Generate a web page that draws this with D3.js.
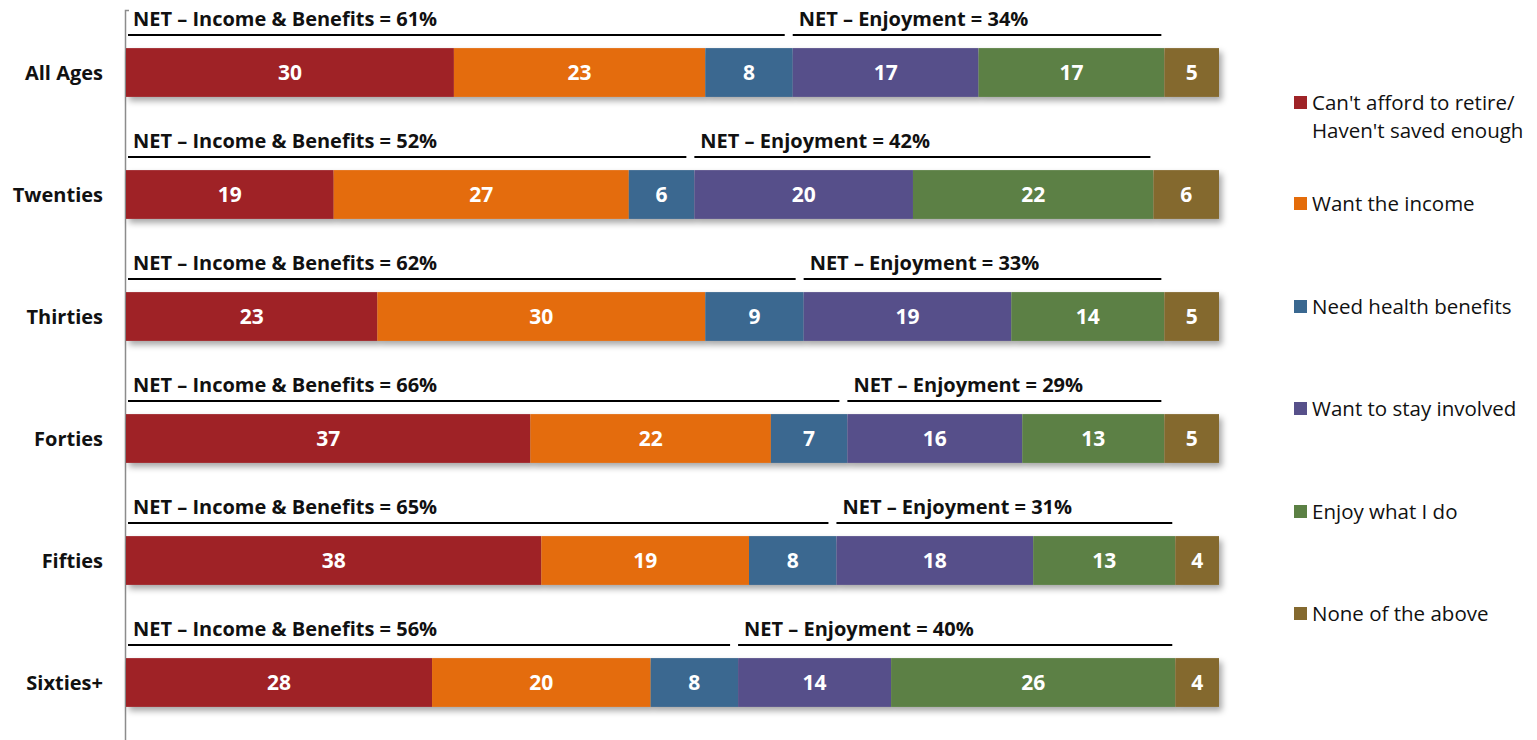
<!DOCTYPE html>
<html>
<head>
<meta charset="utf-8">
<script src="https://cdn.jsdelivr.net/npm/d3@7"></script>
<style>
  body { margin: 0; background: #fff; }
  text { font-family: "Open Sans", "Noto Sans", sans-serif; }
</style>
</head>
<body>
<div id="chart"></div>
<script>
// rows and series
var groups = ["All Ages", "Twenties", "Thirties", "Forties", "Fifties", "Sixties+"];
var series = ["Can't afford to retire/ Haven't saved enough", "Want the income", "Need health benefits",
              "Want to stay involved", "Enjoy what I do", "None of the above"];
var colors = ["#9F2327", "#E46C0A", "#3A6890", "#57508A", "#5B8044", "#84692F"];

var cantAfford = [30, 19, 23, 37, 38, 28];
var wantIncome = [23, 27, 30, 22, 19, 20];
var health     = [8, 6, 9, 7, 8, 8];
var involved   = [17, 20, 19, 16, 18, 14];
var enjoy      = [17, 22, 14, 13, 13, 26];
var noneAbove  = [5, 6, 5, 5, 4, 4];

var netIncome    = [61, 52, 62, 66, 65, 56];
var netEnjoyment = [34, 42, 33, 29, 31, 40];

var values = [cantAfford, wantIncome, health, involved, enjoy, noneAbove];

var W = 1537, H = 740;
var svg = d3.select("#chart").append("svg").attr("width", W).attr("height", H);

var defs = svg.append("defs");
var f = defs.append("filter").attr("id", "shadow").attr("x", "-5%").attr("y", "-20%").attr("width", "110%").attr("height", "160%");
f.append("feDropShadow").attr("dx", 3).attr("dy", 4).attr("stdDeviation", 3).attr("flood-color", "#000").attr("flood-opacity", 0.35);

var x = d3.scaleLinear().domain([0, 100]).range([126, 1219]);
var y = d3.scaleBand().domain(groups).range([11.5, 743.5]).paddingInner(0.6).paddingOuter(0.3);

// stack
var rows = groups.map(function (g, i) {
  var o = { group: g };
  series.forEach(function (s, j) { o[s] = values[j][i]; });
  return o;
});
var stacked = d3.stack().keys(series)(rows);

// axis line
svg.append("path")
  .attr("d", "M129,10.5H125.5V740")
  .attr("fill", "none").attr("stroke", "#8c8c8c").attr("stroke-width", 1.5);

// bars with shadow
var barG = svg.append("g").attr("filter", "url(#shadow)");
var layers = barG.selectAll("g.layer").data(stacked).enter().append("g")
  .attr("class", "layer").attr("fill", function (d, i) { return colors[i]; });

layers.selectAll("rect").data(function (d) { return d; }).enter().append("rect")
  .attr("x", function (d) { return x(d[0]); })
  .attr("y", function (d) { return y(d.data.group); })
  .attr("width", function (d) { return x(d[1]) - x(d[0]); })
  .attr("height", y.bandwidth());

// value labels
var labG = svg.append("g");
stacked.forEach(function (layer) {
  labG.selectAll(null).data(layer).enter().append("text")
    .attr("x", function (d) { return (x(d[0]) + x(d[1])) / 2; })
    .attr("y", function (d) { return y(d.data.group) + y.bandwidth() / 2; })
    .attr("dy", "0.36em")
    .attr("text-anchor", "middle")
    .attr("fill", "#fff")
    .attr("font-weight", "bold")
    .attr("font-size", 21)
    .text(function (d) { return d[1] - d[0]; });
});

// category labels
svg.selectAll("text.cat").data(groups).enter().append("text")
  .attr("class", "cat")
  .attr("x", 103)
  .attr("y", function (d) { return y(d) + y.bandwidth() / 2; })
  .attr("dy", "0.36em")
  .attr("text-anchor", "end")
  .attr("font-weight", "bold")
  .attr("font-size", 20)
  .attr("fill", "#111")
  .text(function (d) { return d; });

// NET brackets
var netG = svg.append("g");
groups.forEach(function (g, i) {
  var top = y(g);
  var ly = top - 13;
  var xe = x(netIncome[i]);
  netG.append("line").attr("x1", 128).attr("x2", xe - 8).attr("y1", ly).attr("y2", ly)
    .attr("stroke", "#000").attr("stroke-width", 2);
  netG.append("text").attr("x", 133).attr("y", ly - 9)
    .attr("font-weight", "bold").attr("font-size", 20).attr("fill", "#111")
    .text("NET \u2013 Income & Benefits = " + netIncome[i] + "%");
  netG.append("line").attr("x1", xe).attr("x2", x(netIncome[i] + netEnjoyment[i]) - 3).attr("y1", ly).attr("y2", ly)
    .attr("stroke", "#000").attr("stroke-width", 2);
  netG.append("text").attr("x", xe + 6).attr("y", ly - 9)
    .attr("font-weight", "bold").attr("font-size", 20).attr("fill", "#111")
    .text("NET \u2013 Enjoyment = " + netEnjoyment[i] + "%");
});

// legend
var legY = [103, 204, 307, 409, 512, 614];
var leg = svg.append("g");
series.forEach(function (s, i) {
  leg.append("rect").attr("x", 1294).attr("y", legY[i] - 7).attr("width", 13).attr("height", 13).attr("fill", colors[i]);
  var parts = s.split("/ ");
  var t = leg.append("text").attr("x", 1312).attr("y", legY[i]).attr("dy", "0.36em")
    .attr("font-size", 20.5).attr("fill", "#111");
  if (parts.length > 1) {
    t.append("tspan").attr("x", 1312).text(parts[0] + "/");
    t.append("tspan").attr("x", 1312).attr("dy", 28).text(parts[1]);
  } else {
    t.text(s);
  }
});
</script>
</body>
</html>
